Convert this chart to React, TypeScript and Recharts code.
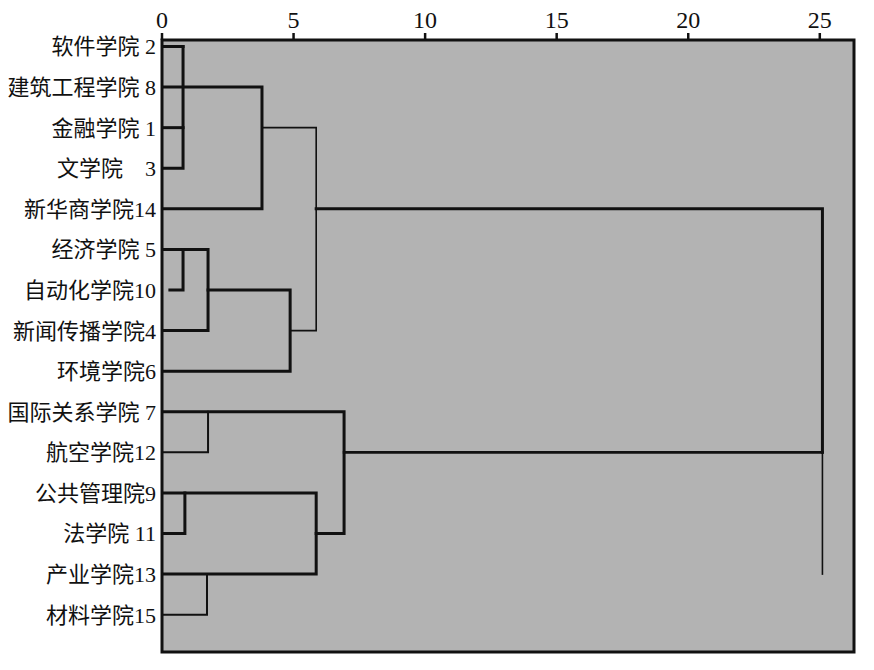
import React from 'react';
import { LineChart, Line, XAxis, YAxis, ReferenceArea } from 'recharts';

// Leaf labels, top to bottom (row index 0..14)
const rowLabels = [
  '软件学院 2',
  '建筑工程学院 8',
  '金融学院 1',
  '文学院\u00a0\u00a0\u00a0 3',
  '新华商学院14',
  '经济学院 5',
  '自动化学院10',
  '新闻传播学院4',
  '环境学院6',
  '国际关系学院 7',
  '航空学院12',
  '公共管理院9',
  '法学院 11',
  '产业学院13',
  '材料学院15',
];

// Rescaled distance tick labels
const distanceTicks = [0, 5, 10, 15, 20, 25];
const rowTicks = rowLabels.map((_, i) => i);

// Merge distances
const dA = 0.8; // 2,1,3
const dB = 3.8; // 8,14 with (2,1,3)
const dC = 5.86; // cluster 1 with cluster 2 (thin link)
const dD = 1.75; // 5,4
const dE = 0.8; // 5,10
const dF = 4.87; // (5,10,4) with 6
const dG = 6.92; // 7 group with 9 group
const dH = 1.75; // 7,12
const dI = 0.87; // 9,11
const dJ = 1.71; // 13,15
const dK = 5.86; // (9,11) with (13,15)
const dTop = 25.1; // final merge
const row10Start = 0.3;

// Dendrogram links: [distance, row] vertices, with line weight
type Link = { pts: [number, number][]; w: number };
const links: Link[] = [
  { pts: [[0, 0], [dA, 0]], w: 3 },
  { pts: [[0, 2], [dA, 2]], w: 3 },
  { pts: [[dA, 0], [dA, 3], [0, 3]], w: 3 },
  { pts: [[0, 1], [dB, 1], [dB, 4], [0, 4]], w: 3 },
  { pts: [[dB, 2], [dC, 2], [dC, 7], [dF, 7]], w: 1.6 },
  { pts: [[dC, 4], [dTop, 4], [dTop, 10]], w: 3 },
  { pts: [[dTop, 10], [dTop, 13]], w: 1.6 },
  { pts: [[0, 5], [dD, 5], [dD, 7], [0, 7]], w: 3 },
  { pts: [[dE, 5], [dE, 6], [row10Start, 6]], w: 3 },
  { pts: [[dD, 6], [dF, 6], [dF, 8], [0, 8]], w: 3 },
  { pts: [[0, 9], [dG, 9], [dG, 12], [dK, 12]], w: 3 },
  { pts: [[dH, 9], [dH, 10], [0, 10]], w: 2 },
  { pts: [[dG, 10], [dTop, 10]], w: 2.6 },
  { pts: [[0, 11], [dK, 11], [dK, 13], [0, 13]], w: 3 },
  { pts: [[dI, 11], [dI, 12], [0, 12]], w: 3 },
  { pts: [[dJ, 13], [dJ, 14], [0, 14]], w: 2 },
];

const X_MAX = 26.3;
const Y_MIN = -0.16;
const Y_MAX = 14.92;

const FONT = "'Liberation Serif', 'Noto Sans CJK SC', serif";

const RowTick = (props: any) => {
  const { y, payload } = props;
  return (
    <text
      x={156}
      y={y}
      dy={8}
      textAnchor="end"
      fontFamily={FONT}
      fontSize={22}
      fill="#111"
      style={{ whiteSpace: 'pre' }}
    >
      {rowLabels[payload.value]}
    </text>
  );
};

export default function App() {
  return (
    <div style={{ position: 'absolute', left: 0, top: 0, background: '#fff' }}>
      <LineChart
        width={874}
        height={670}
        margin={{ top: 0, right: 20, bottom: 18, left: 0 }}
      >
        <XAxis
          type="number"
          dataKey="d"
          orientation="top"
          domain={[0, X_MAX]}
          allowDataOverflow
          ticks={distanceTicks}
          height={40}
          axisLine={false}
          tickLine={{ stroke: '#111', strokeWidth: 2.5 }}
          tickSize={7}
          tickMargin={5}
          tick={{ fontFamily: FONT, fontSize: 24, fill: '#111' }}
        />
        <YAxis
          type="number"
          dataKey="r"
          domain={[Y_MIN, Y_MAX]}
          allowDataOverflow
          reversed
          ticks={rowTicks}
          interval={0}
          width={162}
          axisLine={false}
          tickLine={false}
          tick={<RowTick />}
        />
        <ReferenceArea
          x1={0}
          x2={X_MAX}
          y1={Y_MIN}
          y2={Y_MAX}
          fill="#b3b3b3"
          fillOpacity={1}
          stroke="#111"
          strokeWidth={3}
        />
        {links.map((l, i) => (
          <Line
            key={i}
            data={l.pts.map(([d, r]) => ({ d, r }))}
            dataKey="r"
            type="linear"
            stroke="#111"
            strokeWidth={l.w}
            strokeLinejoin="miter"
            strokeLinecap="square"
            dot={false}
            activeDot={false}
            isAnimationActive={false}
          />
        ))}
      </LineChart>
    </div>
  );
}
